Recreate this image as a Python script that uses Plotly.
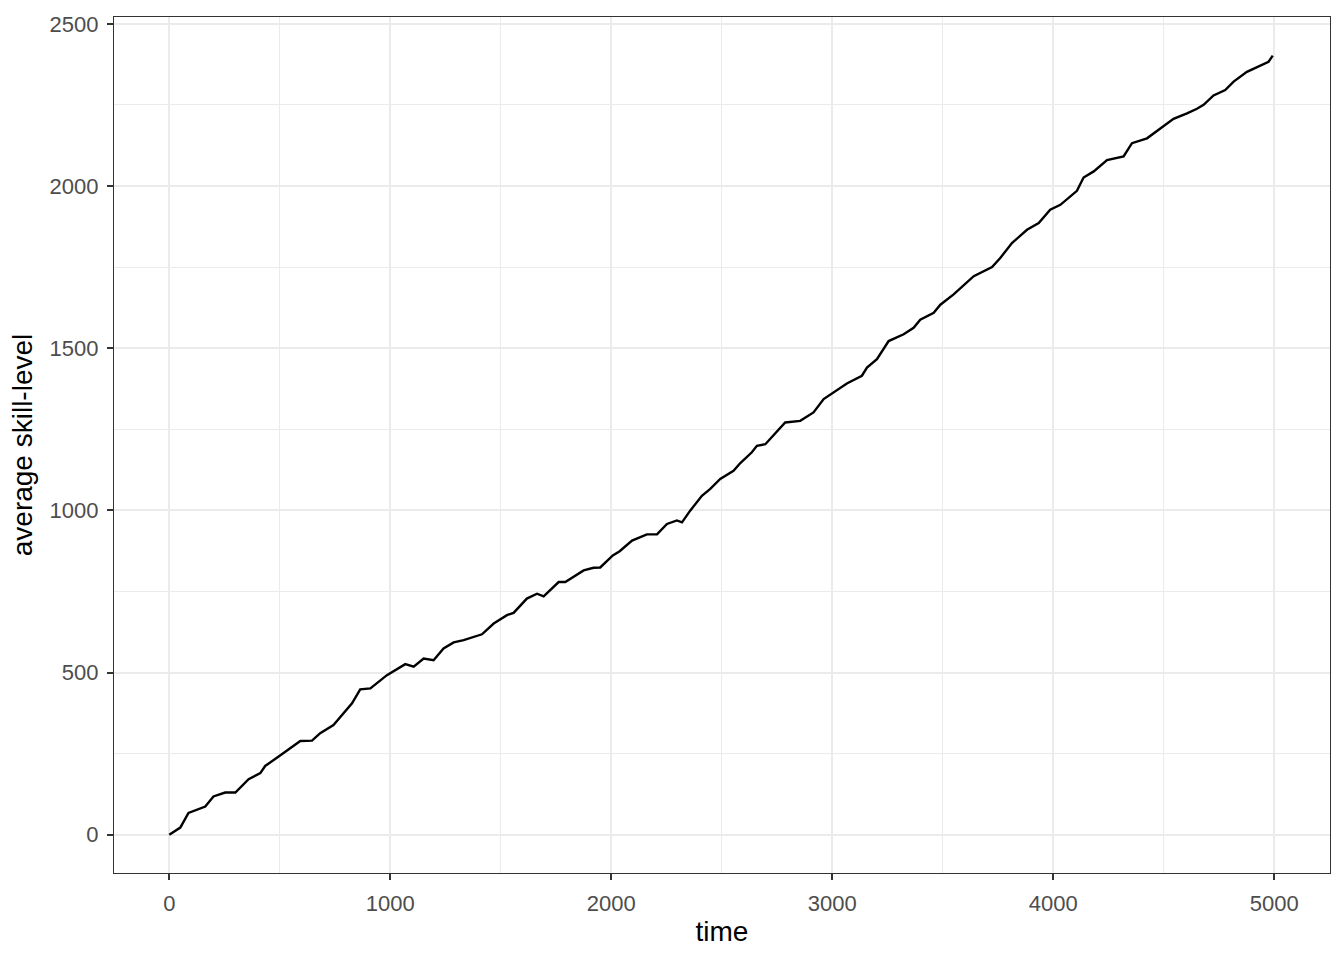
import plotly.graph_objects as go

# values
time = [0, 50, 87, 125, 163, 200, 253, 299, 359, 412, 434, 495, 563, 593, 646,
        683, 743, 781, 827, 864, 910, 985, 1068, 1106, 1151, 1196, 1241, 1287,
        1332, 1415, 1468, 1528, 1558, 1618, 1664, 1694, 1762, 1792, 1875, 1920,
        1950, 2007, 2038, 2094, 2161, 2207, 2252, 2297, 2320, 2357, 2410, 2448,
        2493, 2553, 2584, 2636, 2659, 2697, 2787, 2855, 2915, 2961, 3006, 3066,
        3134, 3157, 3202, 3255, 3323, 3368, 3398, 3459, 3489, 3549, 3640, 3723,
        3760, 3813, 3881, 3934, 3986, 4032, 4107, 4137, 4183, 4243, 4318, 4356,
        4424, 4499, 4544, 4605, 4650, 4680, 4725, 4778, 4816, 4876, 4951, 4974,
        4993]
skill = [0, 22, 67, 77, 87, 118, 130, 130, 171, 190, 212, 241, 274, 289, 290,
         313, 338, 369, 405, 448, 451, 492, 526, 518, 543, 538, 574, 593,
         600, 618, 651, 677, 684, 728, 743, 735, 779, 779, 815, 823,
         824, 861, 874, 907, 926, 926, 958, 969, 963, 999, 1045, 1066,
         1097, 1122, 1146, 1179, 1199, 1204, 1271, 1276, 1302, 1343, 1363, 1391,
         1415, 1440, 1466, 1522, 1543, 1563, 1588, 1609, 1634, 1666, 1722, 1750,
         1778, 1824, 1865, 1886, 1927, 1942, 1985, 2026, 2045, 2080, 2091, 2132,
         2147, 2186, 2207, 2224, 2238, 2250, 2279, 2296, 2322, 2352, 2375, 2383,
         2402]

x_ticks = [0, 1000, 2000, 3000, 4000, 5000]
y_ticks = [0, 500, 1000, 1500, 2000, 2500]

fig = go.Figure(
    go.Scatter(
        x=time,
        y=skill,
        mode="lines",
        line=dict(color="black", width=2.4),
        showlegend=False,
    )
)

grid = "#EBEBEB"
axis_common = dict(
    showline=True,
    mirror=True,
    linecolor="#333333",
    linewidth=1.3,
    ticks="outside",
    ticklen=6,
    tickcolor="#333333",
    tickwidth=1.6,
    ticklabelstandoff=4,
    ticklabeloverflow="allow",
    showgrid=True,
    gridcolor=grid,
    gridwidth=2,
    zeroline=False,
    automargin=True,
    tickfont=dict(size=22, color="#4D4D4D"),
)

fig.update_xaxes(
    range=[-250, 5252],
    tickvals=x_ticks,
    title=dict(text="time", font=dict(size=28, color="black"), standoff=6),
    minor=dict(dtick=500, tick0=0, showgrid=True, gridcolor=grid, gridwidth=1, ticks=""),
    **axis_common,
)
fig.update_yaxes(
    range=[-118, 2521],
    tickvals=y_ticks,
    title=dict(text="average skill-level", font=dict(size=28, color="black"), standoff=8),
    minor=dict(dtick=250, tick0=0, showgrid=True, gridcolor=grid, gridwidth=1, ticks=""),
    **axis_common,
)

fig.update_layout(
    width=1344,
    height=960,
    margin=dict(l=114, r=14, t=14, b=87),
    plot_bgcolor="white",
    paper_bgcolor="white",
    font=dict(family="Liberation Sans, Arial, sans-serif"),
)

# drop the default 8px body margin so the figure fills the window exactly
fig.write_html(
    "out.html",
    config={"displayModeBar": False},
    post_script="document.body.style.margin='0';",
)
